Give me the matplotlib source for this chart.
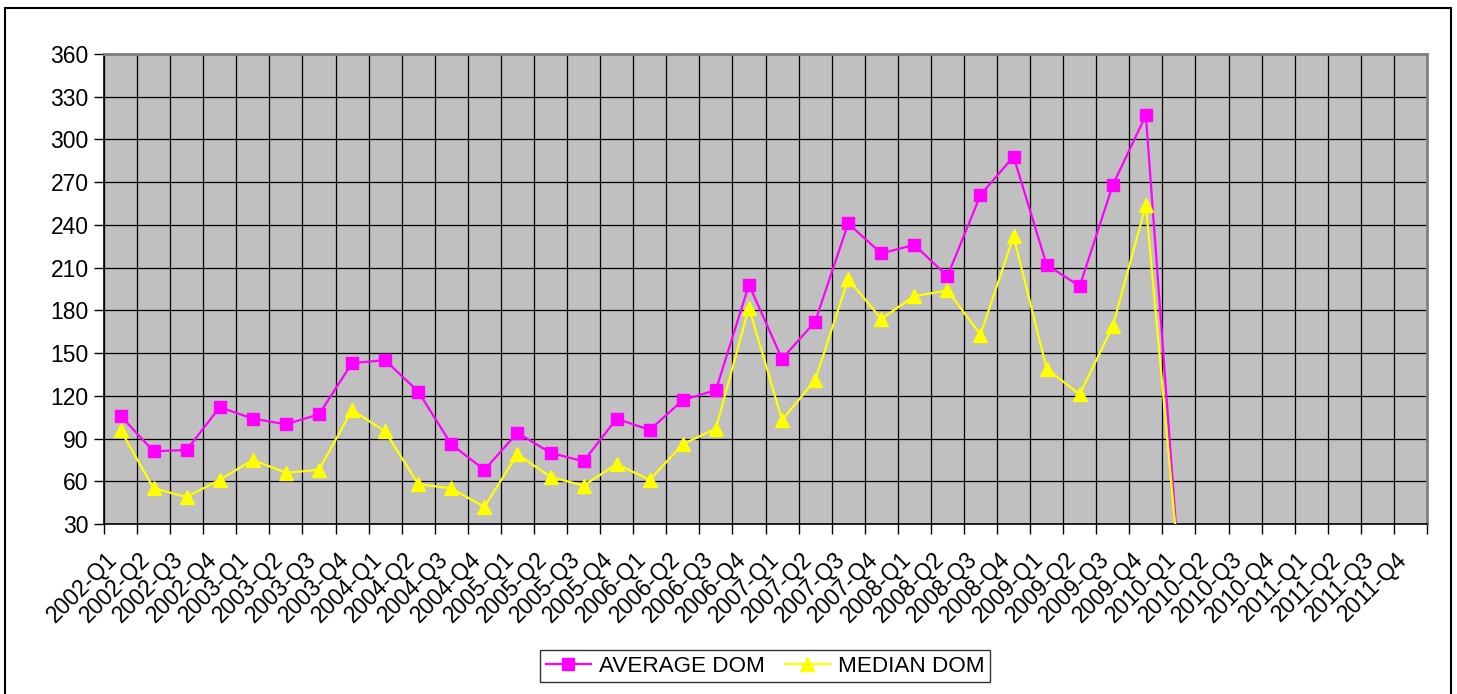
import matplotlib.pyplot as plt
from matplotlib.patches import Rectangle
import numpy as np

plt.rcParams['font.family'] = ['Liberation Sans', 'DejaVu Sans']

# quarters 2002-Q1 .. 2011-Q4
quarters = [str(y) + '-Q' + str(q) for y in range(2002, 2012) for q in range(1, 5)]

average_dom = [106, 81, 82, 112, 104, 100, 107, 143, 145, 123, 86, 68,
               94, 80, 74, 104, 96, 117, 124, 198, 146, 172, 241, 220,
               226, 204, 261, 288, 212, 197, 268, 317, 0]
median_dom = [96, 55, 49, 61, 75, 66, 68, 110, 95, 58, 55, 42,
              79, 63, 57, 72, 61, 86, 97, 182, 103, 131, 202, 174,
              190, 194, 163, 232, 139, 121, 169, 254, 0]

yticks = list(range(30, 361, 30))

fig = plt.figure(figsize=(14.57, 6.94), dpi=100)
ax = fig.add_axes([104/1457, 170/694, 1323/1457, 470/694])
ax.set_facecolor('#C0C0C0')

x = np.arange(len(average_dom))
ax.plot(x, average_dom, color='#FF00FF', lw=1.6, marker='s', ms=9,
        mec='#FF00FF', label='AVERAGE DOM', zorder=3)
ax.plot(x, median_dom, color='#FFFF00', lw=1.6, marker='^', ms=10,
        mec='#FFFF00', label='MEDIAN DOM', zorder=3)

ax.set_xlim(-0.5, len(quarters) - 0.5)
ax.set_ylim(30, 360)
ax.set_yticks(yticks)
ax.set_yticklabels([str(v) for v in yticks], fontsize=16.5)
ax.set_xticks(np.arange(len(quarters)) - 0.2)
ax.set_xticklabels(quarters, fontsize=16.5, rotation=45, ha='right',
                   va='center', rotation_mode='anchor')
ax.set_xticks(np.arange(len(quarters) + 1) - 0.5, minor=True)
ax.tick_params(axis='x', which='major', length=0, pad=23)
ax.tick_params(axis='x', which='minor', length=7, width=1, direction='out')
ax.tick_params(axis='y', length=7, width=1, direction='out', pad=4)

ax.grid(True, axis='y', which='major', color='black', lw=0.9)
ax.grid(True, axis='x', which='minor', color='black', lw=0.9)
ax.set_axisbelow(True)

for s in ['top', 'right']:
    ax.spines[s].set_color('#808080')
    ax.spines[s].set_linewidth(2)
for s in ['left', 'bottom']:
    ax.spines[s].set_color('black')
    ax.spines[s].set_linewidth(1.2)

leg = ax.legend(loc='center', bbox_to_anchor=(765/1457, 28/694),
                bbox_transform=fig.transFigure, ncol=2, fontsize=16.2,
                frameon=True, fancybox=False, edgecolor='black',
                handlelength=2.0, columnspacing=0.9, handletextpad=0.35,
                borderpad=0.25)
leg.get_frame().set_linewidth(1)

# chart area border
fig.patches.append(Rectangle((5/1457, -0.01), 1446/1457, 686/694 + 0.01,
                             transform=fig.transFigure, fill=False,
                             edgecolor='black', lw=1.5))

fig.savefig('out.png', dpi=100)
